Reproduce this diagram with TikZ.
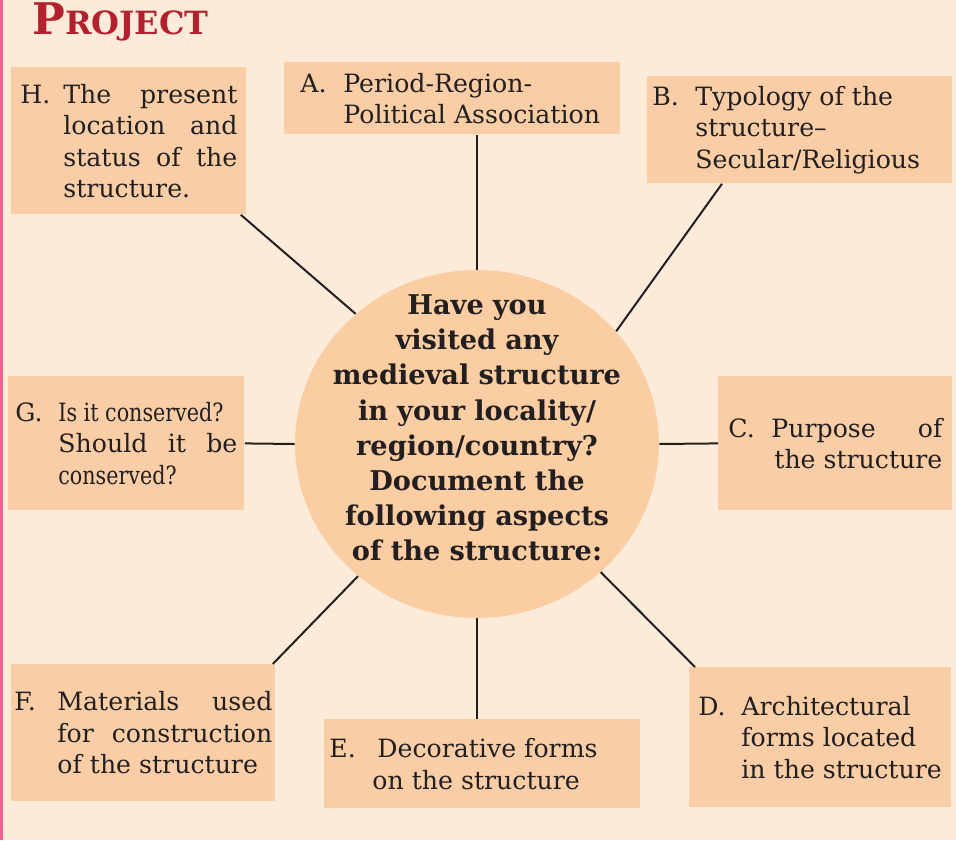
\documentclass[tikz,border=0pt]{standalone}
\usepackage{fontspec}
\setmainfont{DejaVu Serif}
\usepackage{xcolor}
\usepackage{graphicx}
\usepackage{tikz}
\usetikzlibrary{shapes.geometric}
\definecolor{pagepeach}{RGB}{253,235,218}
\definecolor{boxpeach}{RGB}{249,206,166}
\definecolor{hubpeach}{RGB}{250,205,162}
\definecolor{titlered}{RGB}{180,32,45}
\definecolor{edgepink}{RGB}{236,96,146}
\definecolor{inkdark}{RGB}{35,31,32}
\newcommand{\topictext}[3]{\makebox[21.5pt][l]{#1}\parbox[t]{#2}{#3}}
\newcommand{\narrow}[1]{\scalebox{0.82}[1]{#1}}
\tikzset{
  topic/.style={fill=boxpeach, anchor=north west, inner ysep=0pt, text=inkdark,
    font=\fontsize{12.6}{15.75}\selectfont},
  hub/.style={ellipse, fill=hubpeach, inner sep=0pt,
    minimum width=182pt, minimum height=174pt},
  question/.style={align=center, text width=178pt, text=inkdark,
    font=\bfseries\fontsize{13.6}{17.6}\selectfont},
  spoke/.style={draw=inkdark, line width=1pt}
}

\begin{document}
\begin{tikzpicture}[x=0.5pt, y=-0.5pt]
        \useasboundingbox (0,0) rectangle (956,840);
        \fill[pagepeach] (0,0) rectangle (956,840);
        \draw[edgepink, line width=1.5pt] (1.5,0) -- (1.5,840);
        \node[anchor=base west, inner sep=0pt, text=titlered, font=\bfseries] (title) at (32,35)
          {{\fontsize{21.8}{23}\selectfont P}{\fontsize{16}{17}\selectfont ROJECT}};
        \node[hub] (hub) at (477,444) {};
        \node[question] (question) at (477,428)
          {Have you\\visited any\\medieval structure\\in your locality/\\region/country?\\Document the\\following aspects\\of the structure:};
        \node[topic, inner xsep=8pt, minimum width=168pt, minimum height=36pt] (A) at (284,62)
          {\topictext{A.}{130.5pt}{Period-Region-\newline Political Association}};
        \node[topic, inner xsep=2.5pt, minimum width=152.5pt, minimum height=53.5pt] (B) at (647,76)
          {\topictext{B.}{126pt}{Typology of the\newline structure–\newline Secular/Religious}};
        \node[topic, inner xsep=5pt, minimum width=117pt, minimum height=67pt] (C) at (718,376)
          {\topictext{C.}{85.5pt}{Purpose\hfill of\newline\hspace*{\fill}the structure}};
        \node[topic, inner xsep=4.5pt, minimum width=131pt, minimum height=70pt] (D) at (689,667)
          {\topictext{D.}{100.5pt}{Architectural\newline forms located\newline in the structure}};
        \node[topic, inner xsep=2.5pt, minimum width=158pt, minimum height=44.5pt] (E) at (324,719)
          {\topictext{E.}{131.5pt}{\hspace{2.5pt}Decorative forms\newline on the structure}};
        \node[topic, inner xsep=1.5pt, minimum width=132pt, minimum height=68.5pt] (F) at (11,664)
          {\topictext{F.}{107.5pt}{Materials used\linebreak for construction\linebreak of the structure}};
        \node[topic, inner xsep=3.5pt, minimum width=118pt, minimum height=67pt] (G) at (8,376)
          {\topictext{G.}{89.5pt}{\narrow{Is it conserved?}\linebreak Should it be\linebreak\narrow{conserved?}}};
        \node[topic, inner xsep=4.5pt, minimum width=117.5pt, minimum height=73.5pt] (H) at (11,67)
          {\topictext{H.}{87pt}{The present\linebreak location and\linebreak status of the\linebreak structure.}};
        \draw[spoke] (hub.north) -- (hub.north |- A.south);
        \draw[spoke] (hub.39) -- ([xshift=37.5pt]B.south west);
        \draw[spoke] (hub.east) -- (C.west);
        \draw[spoke] (hub.-46) -- ([xshift=3pt]D.north west);
        \draw[spoke] (hub.south) -- (hub.south |- E.north);
        \draw[spoke] (hub.228) -- ([xshift=-1.5pt]F.north east);
        \draw[spoke] (hub.west) -- (G.east);
        \draw[spoke] (hub.133) -- ([xshift=-3pt]H.south east);
\end{tikzpicture}
\end{document}
